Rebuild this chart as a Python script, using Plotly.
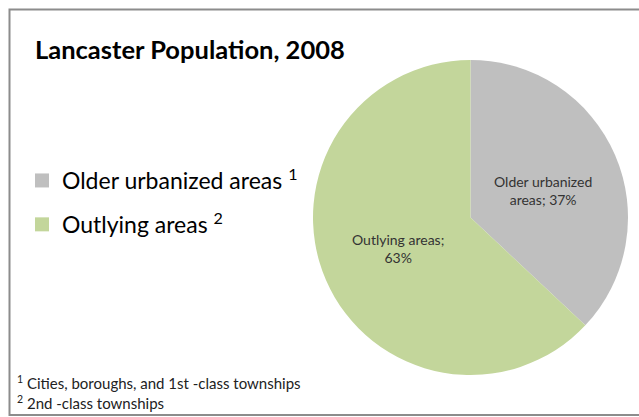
import plotly.graph_objects as go

categories = ["Older urbanized areas", "Outlying areas"]
footnote_marks = ["1", "2"]
shares = [37, 63]
colors = ["#BFBFBF", "#C3D69B"]
footnotes = ["Cities, boroughs, and 1st -class townships", "2nd -class townships"]
title_text = "Lancaster Population, 2008"

W, H = 639, 417
FONT = "Lato, 'Open Sans', sans-serif"

fig = go.Figure()

fig.add_trace(go.Pie(
    labels=categories,
    values=shares,
    sort=False,
    direction="clockwise",
    rotation=0,
    marker=dict(colors=colors, line=dict(width=0)),
    textinfo="none",
    hoverinfo="label+percent",
    showlegend=False,
    domain=dict(x=[313 / W, 628 / W], y=[42 / H, 357 / H]),
))

# legend via dummy traces (one legend group per category to control spacing)
for i, (cat, mark, col) in enumerate(zip(categories, footnote_marks, colors)):
    fig.add_trace(go.Scatter(
        x=[None], y=[None], mode="markers",
        marker=dict(symbol="square", size=14, color=col),
        name=f"{cat} <sup>{mark}</sup>",
        legendgroup=str(i),
        showlegend=True,
    ))

# slice labels
label_pos = [(543 / W, 1 - 190 / H), (398 / W, 1 - 248 / H)]
label_text = ["Older urbanized<br>areas; {}%", "Outlying areas;<br>{}%"]
for (lx, ly), t, v in zip(label_pos, label_text, shares):
    fig.add_annotation(
        x=lx, y=ly, xref="paper", yref="paper", text=t.format(v),
        showarrow=False, font=dict(family=FONT, size=14, color="#333333"),
        align="center", xanchor="center", yanchor="middle",
    )

# footnotes
for j, (mark, note) in enumerate(zip(footnote_marks, footnotes)):
    fig.add_annotation(
        x=15 / W, y=1 - (382 + j * 20) / H, xref="paper", yref="paper",
        text=f"<sup>{mark}</sup> {note}", showarrow=False,
        font=dict(family=FONT, size=15, color="#222222"),
        xanchor="left", yanchor="middle", align="left",
    )

# chart border
fig.add_shape(type="rect", xref="paper", yref="paper",
              x0=9.5 / W, x1=1.02, y0=1 - 415 / H, y1=1 - 9.5 / H,
              line=dict(color="#8C8C8C", width=2), fillcolor="rgba(0,0,0,0)")

fig.update_layout(
    width=W, height=H,
    margin=dict(l=0, r=0, t=0, b=0),
    paper_bgcolor="white", plot_bgcolor="white",
    title=dict(text=f"<b>{title_text}</b>", x=35 / W, xanchor="left",
               y=1 - 50 / H, yanchor="middle",
               font=dict(family=FONT, size=25.5, color="#000000")),
    xaxis=dict(visible=False), yaxis=dict(visible=False),
    legend=dict(x=22 / W, y=1 - 159 / H, xanchor="left", yanchor="top",
                font=dict(family=FONT, size=23, color="#000000"),
                tracegroupgap=11, bgcolor="rgba(0,0,0,0)", itemwidth=30),
)

fig.write_html("out.html", config={"displayModeBar": False},
               post_script="document.body.style.margin='0';")
